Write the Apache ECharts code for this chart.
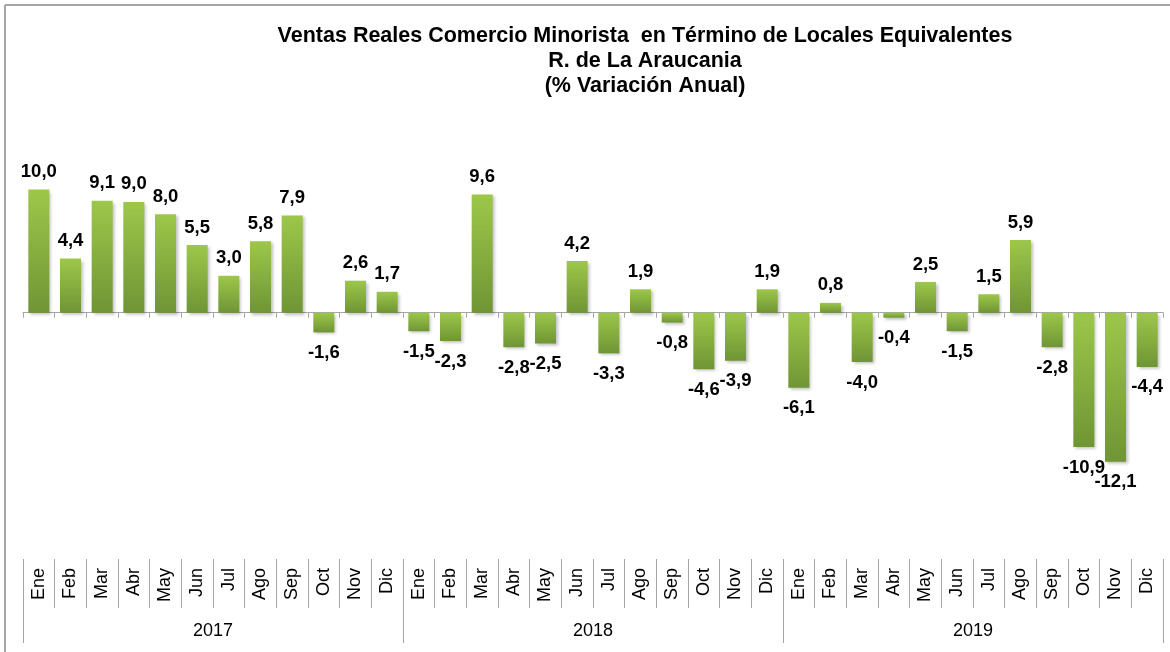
<!DOCTYPE html>
<html>
<head>
<meta charset="utf-8">
<script src="https://cdn.jsdelivr.net/npm/echarts@6/dist/echarts.min.js"></script>
<style>
  html, body { margin: 0; padding: 0; background: #fff; }
  #main { width: 1170px; height: 652px; }
</style>
</head>
<body>
<div id="main"></div>
<script>
  // meses y años
  const months = ["Ene", "Feb", "Mar", "Abr", "May", "Jun", "Jul", "Ago", "Sep", "Oct", "Nov", "Dic"];
  const years = ["2017", "2018", "2019"];
  // % variación anual
  const values2017 = [10.0, 4.4, 9.1, 9.0, 8.0, 5.5, 3.0, 5.8, 7.9, -1.6, 2.6, 1.7];
  const values2018 = [-1.5, -2.3, 9.6, -2.8, -2.5, 4.2, -3.3, 1.9, -0.8, -4.6, -3.9, 1.9];
  const values2019 = [-6.1, 0.8, -4.0, -0.4, 2.5, -1.5, 1.5, 5.9, -2.8, -10.9, -12.1, -4.4];

  const categories = [];
  years.forEach(function(y) {
    months.forEach(function(m) {
      categories.push(m + " " + y);
    });
  });
  const values = values2017.concat(values2018, values2019);

  const fill = {
    type: "linear", x: 0, y: 0, x2: 0, y2: 1,
    colorStops: [
      { offset: 0, color: "#9dc74a" },
      { offset: 1, color: "#6f9535" }
    ]
  };

  // etiquetas arriba para positivos, abajo para negativos
  const barData = values.map(function(v) {
    return {
      value: v,
      label: v >= 0 ? { position: "top", distance: 8 } : { position: "bottom", distance: 11 }
    };
  });

  const chart = echarts.init(document.getElementById("main"));
  const fontFamily = "Liberation Sans, Arial, sans-serif";

  chart.setOption({
    animation: false,
    title: {
      text: "Ventas Reales Comercio Minorista  en Término de Locales Equivalentes\nR. de La Araucania\n(% Variación Anual)",
      left: 640,
      top: 19,
      textAlign: "center",
      textStyle: {
        fontFamily: fontFamily,
        fontWeight: "bold",
        fontSize: 21.5,
        lineHeight: 25,
        color: "#000"
      }
    },
    graphic: [
      { type: "line", shape: { x1: 5, y1: 5, x2: 1170, y2: 5 }, style: { stroke: "#a6a6a6", lineWidth: 2 } },
      { type: "line", shape: { x1: 5, y1: 5, x2: 5, y2: 652 }, style: { stroke: "#a6a6a6", lineWidth: 2 } }
    ],
    grid: { left: 23, right: 7, top: 128, bottom: 93 },
    xAxis: [
      {
        type: "category",
        data: categories,
        axisLine: { onZero: true, lineStyle: { color: "#a6a6a6", width: 1 } },
        axisTick: { show: true, length: 5, interval: 0, lineStyle: { color: "#a6a6a6" } },
        axisLabel: { show: false }
      },
      {
        type: "category",
        data: categories,
        position: "bottom",
        axisLine: { show: false, onZero: false },
        axisTick: { show: true, length: 49, interval: 0, lineStyle: { color: "#a6a6a6" } },
        axisLabel: {
          interval: 0,
          rotate: 90,
          margin: 9,
          fontFamily: fontFamily,
          fontSize: 18,
          color: "#000",
          formatter: function(v) { return v.split(" ")[0]; }
        }
      },
      {
        type: "category",
        data: years,
        position: "bottom",
        axisLine: { show: false, onZero: false },
        axisTick: { show: true, length: 84, interval: 0, lineStyle: { color: "#a6a6a6" } },
        axisLabel: {
          interval: 0,
          margin: 63,
          fontFamily: fontFamily,
          fontSize: 18,
          color: "#000"
        }
      }
    ],
    yAxis: {
      type: "value",
      min: -20,
      max: 15,
      show: false,
      splitLine: { show: false }
    },
    series: [
      {
        type: "bar",
        xAxisIndex: 0,
        data: barData,
        barWidth: 21,
        itemStyle: {
          color: fill,
          shadowColor: "rgba(0,0,0,0.25)",
          shadowBlur: 3,
          shadowOffsetX: 2,
          shadowOffsetY: 2
        },
        label: {
          show: true,
          fontFamily: fontFamily,
          fontWeight: "bold",
          fontSize: 18.5,
          color: "#000",
          formatter: function(p) { return p.value.toFixed(1).replace(".", ","); }
        }
      }
    ]
  });
</script>
</body>
</html>
